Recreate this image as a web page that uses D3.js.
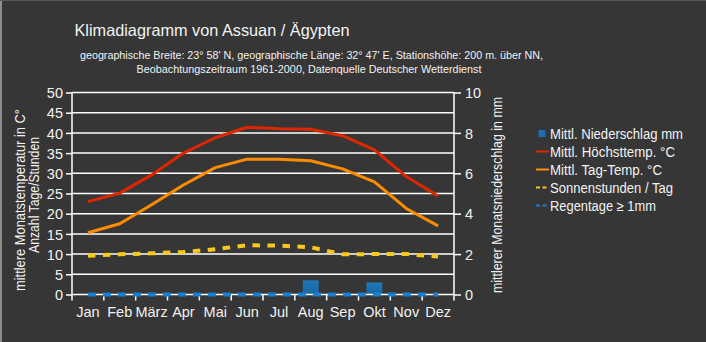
<!DOCTYPE html>
<html><head><meta charset="utf-8">
<script src="https://cdn.jsdelivr.net/npm/d3@7"></script>
<style>
html,body{margin:0;padding:0;background:#363636;}
svg{display:block;font-family:"Liberation Sans",Arial,sans-serif;}
</style></head>
<body>
<svg id="c" width="706" height="342"></svg>
<script>
const months = ["Jan","Feb","März","Apr","Mai","Jun","Jul","Aug","Sep","Okt","Nov","Dez"];
const precip = [0,0,0,0,0,0,0,0.7,0,0.6,0,0];
const maxTemp = [23.0,25.1,29.6,35.0,38.8,41.4,41.0,40.9,39.3,35.8,29.2,24.4];
const meanTemp = [15.3,17.5,22.2,27.1,31.4,33.5,33.5,33.1,31.1,27.9,21.3,17.0];
const sunHours = [9.6,9.95,10.2,10.5,11.2,12.2,12.1,11.7,9.95,10.0,10.0,9.4];
const rainDays = [0,0,0,0,0,0,0,0,0,0,0,0];
const tempTicks = [0,5,10,15,20,25,30,35,40,45,50];
const precipTicks = [0,2,4,6,8,10];
const title = "Klimadiagramm von Assuan / Ägypten";
const subtitle1 = "geographische Breite: 23° 58' N, geographische Länge: 32° 47' E, Stationshöhe: 200 m. über NN,";
const subtitle2 = "Beobachtungszeitraum 1961-2000, Datenquelle Deutscher Wetterdienst";
const leftTitle1 = "mittlere Monatstemperatur in C°";
const leftTitle2 = "Anzahl Tage/Stunden";
const rightTitle = "mittlerer Monatsniederschlag in mm";
const legendLabels = ["Mittl. Niederschlag mm","Mittl. Höchsttemp. °C","Mittl. Tag-Temp. °C","Sonnenstunden / Tag","Regentage ≥ 1mm"];

const C = {bg:"#363636", text:"#f2f2f2", red:"#de2600", orange:"#ff8c00", yellow:"#f8c81c", blue:"#1a7fd0", bar:"#1b6fad"};
const svg = d3.select("#c");
svg.append("rect").attr("width",706).attr("height",342).attr("fill",C.bg);
svg.append("rect").attr("x",0).attr("y",0).attr("width",2).attr("height",342).attr("fill","#8c8c8c");
svg.append("rect").attr("x",0).attr("y",0).attr("width",706).attr("height",1).attr("fill","#5a5a5a");

const L=72, R=454, T=92.5, B=294.5;
const x = d3.scaleBand().domain(months).range([L,R]).padding(0);
const yT = d3.scaleLinear().domain([0,50]).range([B,T]);
const yP = d3.scaleLinear().domain([0,10]).range([B,T]);
const cx = m => x(m)+x.bandwidth()/2;

function fitText(sel, w){ sel.attr("textLength",w).attr("lengthAdjust","spacingAndGlyphs"); return sel; }

// titles
fitText(svg.append("text").attr("x",74.5).attr("y",36).attr("font-size",16.5).attr("fill",C.text).text(title),275);
fitText(svg.append("text").attr("x",80).attr("y",58.5).attr("font-size",11.5).attr("fill",C.text).text(subtitle1),463);
fitText(svg.append("text").attr("x",136.5).attr("y",73).attr("font-size",11.5).attr("fill",C.text).text(subtitle2),345);

// gridlines
svg.append("g").selectAll("line").data(tempTicks.filter(d=>d>0)).join("line")
  .attr("x1",L).attr("x2",R).attr("y1",d=>yT(d)).attr("y2",d=>yT(d))
  .attr("stroke","#ffffff").attr("stroke-width",1.5);

// bars
const bw = x.bandwidth()*0.5;
const barGrad = svg.append("defs").append("linearGradient").attr("id","bg").attr("x1",0).attr("x2",0).attr("y1",0).attr("y2",1);
barGrad.append("stop").attr("offset","0%").attr("stop-color","#1f78b8");
barGrad.append("stop").attr("offset","100%").attr("stop-color","#17669f");
svg.append("g").selectAll("rect").data(months.map((m,i)=>({m,v:precip[i]})).filter(d=>d.v>0)).join("rect")
  .attr("x",d=>cx(d.m)-bw/2).attr("width",bw)
  .attr("y",d=>yP(d.v)).attr("height",d=>yP(0)-yP(d.v)).attr("fill","url(#bg)");

// x axis baseline (0 grid)
svg.append("line").attr("x1",L).attr("x2",R).attr("y1",B).attr("y2",B).attr("stroke","#fff").attr("stroke-width",1.5);

// left axis
const la = svg.append("g").attr("transform",`translate(${L},0)`)
  .call(d3.axisLeft(yT).tickValues(tempTicks).tickSize(6).tickPadding(3));
la.select(".domain").remove();
la.selectAll("line").attr("stroke","#fff").attr("stroke-width",1.5);
la.selectAll("text").attr("fill",C.text).attr("font-size",14.5).attr("font-family","Liberation Sans, Arial, sans-serif").attr("dy","0.36em");
svg.append("line").attr("x1",L).attr("x2",L).attr("y1",T).attr("y2",B+6).attr("stroke","#fff").attr("stroke-width",1.5);

// right axis
const ra = svg.append("g").attr("transform",`translate(${R},0)`)
  .call(d3.axisRight(yP).tickValues(precipTicks).tickSize(7).tickPadding(4));
ra.select(".domain").remove();
ra.selectAll("line").attr("stroke","#fff").attr("stroke-width",1.5);
ra.selectAll("text").attr("fill",C.text).attr("font-size",14.5).attr("font-family","Liberation Sans, Arial, sans-serif").attr("dy","0.36em");
svg.append("line").attr("x1",R).attr("x2",R).attr("y1",T).attr("y2",B+6).attr("stroke","#fff").attr("stroke-width",1.5);

// x axis ticks at band boundaries + labels
const bounds = months.slice(1).map(m=>x(m));
svg.append("g").selectAll("line").data(bounds).join("line")
  .attr("x1",d=>d).attr("x2",d=>d).attr("y1",B).attr("y2",B+6).attr("stroke","#fff").attr("stroke-width",1.5);
svg.append("g").selectAll("text").data(months).join("text")
  .attr("x",d=>cx(d)).attr("y",316.5).attr("text-anchor","middle").attr("font-size",14.5).attr("fill",C.text).text(d=>d);

// lines
const line = d3.line().x((d,i)=>cx(months[i])).y(d=>yT(d));
svg.append("path").datum(maxTemp).attr("d",line).attr("fill","none").attr("stroke",C.red).attr("stroke-width",3).attr("stroke-linejoin","round");
svg.append("path").datum(meanTemp).attr("d",line).attr("fill","none").attr("stroke",C.orange).attr("stroke-width",3).attr("stroke-linejoin","round");
svg.append("path").datum(sunHours).attr("d",line).attr("fill","none").attr("stroke",C.yellow).attr("stroke-width",4).attr("stroke-dasharray","7.5,7.5");
svg.append("path").datum(rainDays).attr("d",line).attr("fill","none").attr("stroke",C.blue).attr("stroke-width",4).attr("stroke-dasharray","8,7");

// axis titles
fitText(svg.append("text").attr("transform","translate(24.5,200) rotate(-90)").attr("text-anchor","middle").attr("font-size",14).attr("fill",C.text).text(leftTitle1),182);
fitText(svg.append("text").attr("transform","translate(38.5,195) rotate(-90)").attr("text-anchor","middle").attr("font-size",14).attr("fill",C.text).text(leftTitle2),116);
fitText(svg.append("text").attr("transform","translate(501.5,195) rotate(-90)").attr("text-anchor","middle").attr("font-size",14).attr("fill",C.text).text(rightTitle),196);

// legend
const legY = [133.5,151.5,169.5,187.5,205.5];
const legW = [133,125,112,123,106];
const lg = svg.append("g");
lg.append("rect").attr("x",538.5).attr("y",legY[0]-3.5).attr("width",7).attr("height",7).attr("fill",C.bar);
lg.append("line").attr("x1",536).attr("x2",549).attr("y1",legY[1]).attr("y2",legY[1]).attr("stroke",C.red).attr("stroke-width",2);
lg.append("line").attr("x1",536).attr("x2",549).attr("y1",legY[2]).attr("y2",legY[2]).attr("stroke",C.orange).attr("stroke-width",2);
lg.append("line").attr("x1",536).attr("x2",549).attr("y1",legY[3]).attr("y2",legY[3]).attr("stroke",C.yellow).attr("stroke-width",2).attr("stroke-dasharray","4,2.5");
lg.append("line").attr("x1",536).attr("x2",549).attr("y1",legY[4]).attr("y2",legY[4]).attr("stroke",C.blue).attr("stroke-width",2).attr("stroke-dasharray","4,2.5");
legendLabels.forEach((t,i)=>{
  fitText(lg.append("text").attr("x",550).attr("y",legY[i]+5).attr("font-size",14).attr("fill",C.text).text(t),legW[i]);
});
</script>
</body></html>
